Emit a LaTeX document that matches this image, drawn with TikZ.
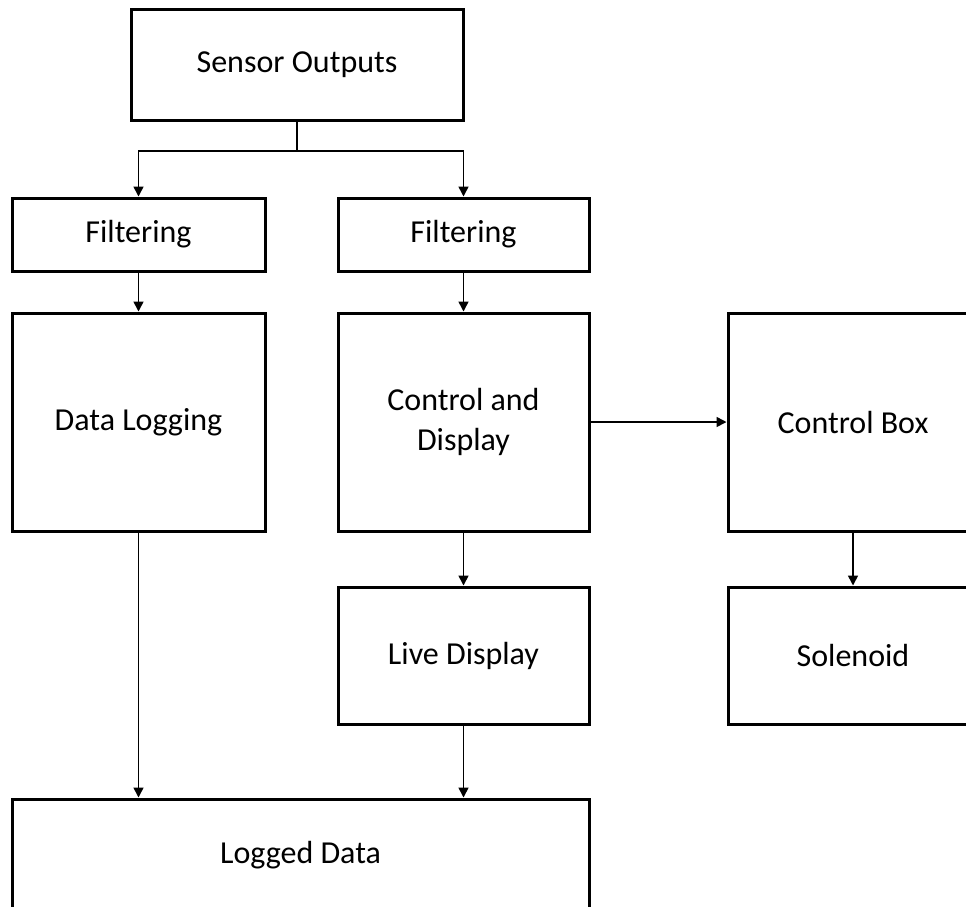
\documentclass[tikz,border=0pt]{standalone}
\usepackage{fontspec}
\setmainfont{Carlito}
\usetikzlibrary{arrows.meta}
\begin{document}
\begin{tikzpicture}[x=1pt,y=-1pt,
  blk/.style={draw=black, line width=3pt, fill=white, inner sep=0pt, align=center,
    font=\fontsize{32}{40}\selectfont},
  arr/.style={line width=1.6pt, -{Triangle[length=10pt,width=10pt]}},
  ln/.style={line width=1.6pt}]
\useasboundingbox (0,0) rectangle (966,906);
\clip (0,0) rectangle (966,906);
\node[blk, minimum width=332pt, minimum height=111pt] (s) at (297,64.5) {Sensor Outputs};
\node[blk, minimum width=253pt, minimum height=73pt] (fl) at (138.5,234.5) {Filtering};
\node[blk, minimum width=251pt, minimum height=73pt] (fr) at (463.5,234.5) {Filtering};
\node[blk, minimum width=253pt, minimum height=218pt] (dl) at (138.5,422) {Data Logging};
\node[blk, minimum width=251pt, minimum height=218pt] (cd) at (463.5,422) {Control and\\Display};
\node[blk, minimum width=250pt, minimum height=218pt] (cb) at (853,422) {Control Box};
\node[blk, minimum width=251pt, minimum height=137pt] (lv) at (463.5,655.5) {Live Display};
\node[blk, minimum width=250pt, minimum height=137pt] (so) at (853,655.5) {Solenoid};
\node[blk, minimum width=577pt, minimum height=112pt] (lg) at (300.5,855) {Logged Data};
\coordinate (j) at (297,151);
\draw[ln] (s.south) -- (j);
\draw[arr] (j) -| (fl.north);
\draw[arr] (j) -| (fr.north);
\draw[arr] (fl.south) -- (dl.north);
\draw[arr] (fr.south) -- (cd.north);
\draw[arr] (cd.east) -- (cb.west);
\draw[arr] (cd.south) -- (lv.north);
\draw[arr] (cb.south) -- (so.north);
\draw[arr] (lv.south) -- (lv.south |- lg.north);
\draw[arr] (dl.south) -- (dl.south |- lg.north);
\end{tikzpicture}
\end{document}
